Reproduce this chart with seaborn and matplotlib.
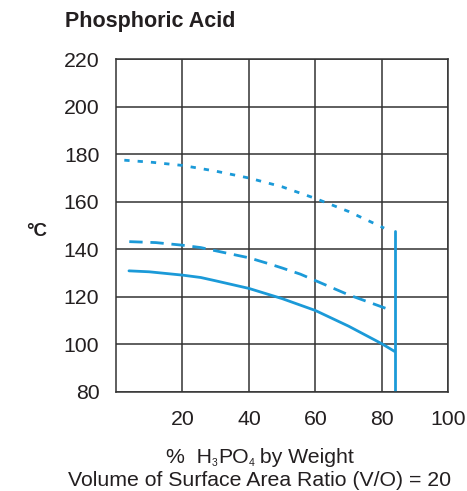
import matplotlib
matplotlib.use("Agg")
import matplotlib.pyplot as plt
import seaborn as sns

# Isocorrosion curves for phosphoric acid (temperature vs. concentration)
solid_x = [3.9, 10, 20, 25.5, 30, 40, 50, 60, 70, 80, 83.8]
solid_y = [130.9, 130.5, 129.1, 128.1, 126.7, 123.5, 119.2, 114.2, 107.6, 100.2, 97.0]

dashed_x = [4, 12, 20, 25.5, 31.5, 40, 45.5, 50, 55.5, 60, 70, 82]
dashed_y = [143.2, 142.8, 141.7, 140.7, 138.9, 136.4, 134.1, 132.1, 129.5, 126.8, 120.8, 114.7]

dotted_x = [2.5, 11, 20, 30, 40, 50, 60, 70, 80.7]
dotted_y = [177.5, 176.6, 175.3, 172.9, 170.0, 166.3, 161.4, 155.9, 148.9]

# Concentration limit marker
limit_x = [84, 84]
limit_y = [80, 147.8]

x_ticks = [20, 40, 60, 80, 100]
y_ticks = [80, 100, 120, 140, 160, 180, 200, 220]

sns.set_theme(style="white")
plt.rcParams["font.family"] = ["Liberation Sans", "DejaVu Sans"]

BLUE = "#1b9ad8"
GRID = "#333333"
TEXT = "#231f20"
FS = 15.3

fig = plt.figure(figsize=(4.67, 4.91), dpi=100)
W, H = 467, 491
ax = fig.add_axes([116 / W, 1 - 391.7 / H, (448.3 - 116) / W, (391.7 - 59.3) / H])

ax.set_xlim(0, 100)
ax.set_ylim(80, 220)
ax.set_xticks(x_ticks)
ax.set_yticks(y_ticks)
ax.set_xticklabels([str(v) for v in x_ticks])
ax.set_yticklabels([str(v) for v in y_ticks])
ax.tick_params(axis="both", length=0, labelsize=FS, colors=TEXT)
ax.tick_params(axis="x", pad=13)
ax.tick_params(axis="y", pad=12)
ax.grid(True, color=GRID, linewidth=1.1)
ax.set_axisbelow(True)
for s in ax.spines.values():
    s.set_color(GRID)
    s.set_linewidth(1.1)

lw = 2.0
sns.lineplot(x=solid_x, y=solid_y, ax=ax, color=BLUE, linewidth=lw,
             estimator=None, sort=False)
sns.lineplot(x=dashed_x, y=dashed_y, ax=ax, color=BLUE, linewidth=lw,
             estimator=None, sort=False, linestyle=(0, (4.8, 2.8)))
sns.lineplot(x=dotted_x, y=dotted_y, ax=ax, color=BLUE, linewidth=lw,
             estimator=None, sort=False, linestyle=(0, (1.9, 2.9)))
sns.lineplot(x=limit_x, y=limit_y, ax=ax, color=BLUE, linewidth=lw,
             estimator=None, sort=False)

ax.set_xlabel("")
ax.set_ylabel("")

fig.text(65 / W, 1 - 22 / H, "Phosphoric Acid", fontsize=15.5, fontweight="bold",
         color=TEXT, ha="left", va="center")
fig.text(37 / W, 1 - 231 / H, "\u00b0C", fontsize=13.5, fontweight="bold",
         color=TEXT, ha="center", va="center")

# Axis title with small subscripts, laid out piece by piece and centred
renderer = fig.canvas.get_renderer()
pieces = [("%  H", FS, 0), ("3", 7.5, -2.5), ("PO", FS, 0), ("4", 7.5, -2.5),
          (" by Weight", FS, 0)]
baseline_px = 463
texts = []
for s, size, dy in pieces:
    t = fig.text(0, 0, s, fontsize=size, color=TEXT, ha="left", va="baseline")
    texts.append((t, dy))
widths = [t.get_window_extent(renderer).width for t, _ in texts]
x0 = 260 - sum(widths) / 2
for (t, dy), w in zip(texts, widths):
    t.set_position((x0 / W, 1 - (baseline_px - dy) / H))
    x0 += w

fig.text(260 / W, 1 - 481 / H, "Volume of Surface Area Ratio (V/O) = 20",
         fontsize=FS, color=TEXT, ha="center", va="center")

fig.savefig("out.png", dpi=100, facecolor="white")
